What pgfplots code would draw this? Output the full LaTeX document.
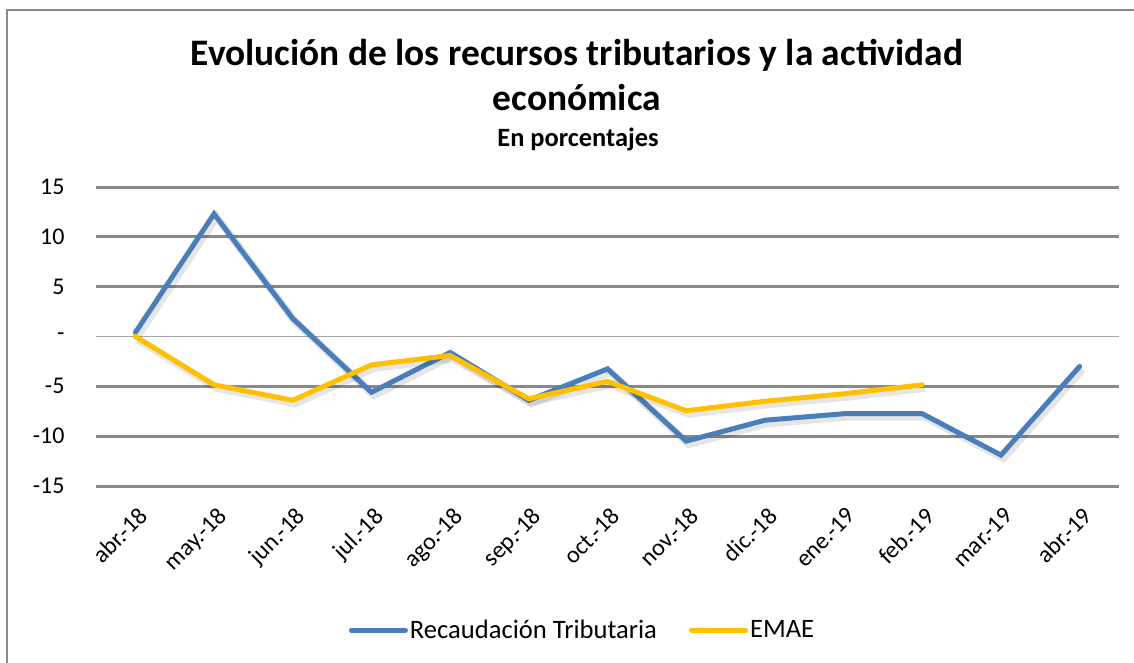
\documentclass[border=0pt]{standalone}
\usepackage{pgfplots}
\pgfplotsset{compat=1.18}
\usepackage{pgfplotstable}
\usepackage{fontspec}
\setmainfont{Carlito}
\definecolor{serblue}{HTML}{4A7EBB}
\definecolor{seryel}{HTML}{FFC000}
\definecolor{gridg}{HTML}{898989}
\definecolor{zerog}{HTML}{A6A6A6}

\pgfplotstableread{
x rt
0 0.4
1 12.3
2 1.8
3 -5.6
4 -1.6
5 -6.4
6 -3.25
7 -10.5
8 -8.4
9 -7.75
10 -7.75
11 -11.9
12 -3.0
}\rttable

\pgfplotstableread{
x emae
0 0.0
1 -4.85
2 -6.4
3 -2.85
4 -1.9
5 -6.25
6 -4.5
7 -7.45
8 -6.5
9 -5.75
10 -4.85
}\emaetable

\begin{document}
\begin{tikzpicture}[x=1pt,y=1pt]
\path[use as bounding box] (0,0) rectangle (1134,-663);
\draw[gridg, line width=2pt] (7,-663) -- (7,-10) -- (1134,-10);
\node[font=\fontsize{37.4}{44}\selectfont\bfseries] at (577,-55) {Evolución de los recursos tributarios y la actividad};
\node[font=\fontsize{37.4}{44}\selectfont\bfseries] at (577,-98) {económica};
\node[font=\fontsize{26.4}{32}\selectfont\bfseries] at (578,-139) {En porcentajes};
\begin{axis}[
  at={(96pt,-486pt)}, anchor=south west,
  width=1023pt, height=299pt, scale only axis,
  xmin=-0.5, xmax=12.5, ymin=-15, ymax=15,
  axis line style={draw=none},
  major tick style={draw=none},
  xtick={0,...,12},
  xticklabels={abr.-18,may.-18,jun.-18,jul.-18,ago.-18,sep.-18,oct.-18,nov.-18,dic.-18,ene.-19,feb.-19,mar.-19,abr.-19},
  ytick={-15,-10,-5,5,10,15},
  yticklabels={-15,-10,-5,5,10,15},
  extra y ticks={0},
  extra y tick labels={-},
  extra y tick style={grid style={zerog, line width=1.3pt}},
  ymajorgrids,
  grid style={gridg, line width=3pt},
  tick label style={font=\fontsize{24}{28}\selectfont},
  yticklabel style={xshift=-28pt},
  xticklabel style={xshift=2pt, yshift=-15pt, rotate=45, anchor=north east, font=\fontsize{24}{28}\selectfont},
  legend style={at={(0.4756,-0.4816)}, anchor=center, draw=none, fill=none,
    legend columns=2, font=\fontsize{26.6}{32}\selectfont,
    /tikz/every even column/.append style={column sep=30pt}},
  legend image code/.code={\draw[#1, line width=5pt, line cap=round] (0pt,0pt) -- (54pt,0pt);},
]
\addplot[forget plot, black, opacity=0.10, line width=8pt, transform canvas={shift={(2.5pt,-3pt)}}] table[x=x, y=rt] {\rttable};
\addplot[serblue, line width=5pt, line cap=round] table[x=x, y=rt] {\rttable};
\addlegendentry{Recaudación Tributaria}
\addplot[forget plot, black, opacity=0.10, line width=8pt, transform canvas={shift={(2.5pt,-3pt)}}] table[x=x, y=emae] {\emaetable};
\addplot[seryel, line width=5pt, line cap=round] table[x=x, y=emae] {\emaetable};
\addlegendentry{EMAE}
\end{axis}
\end{tikzpicture}
\end{document}
